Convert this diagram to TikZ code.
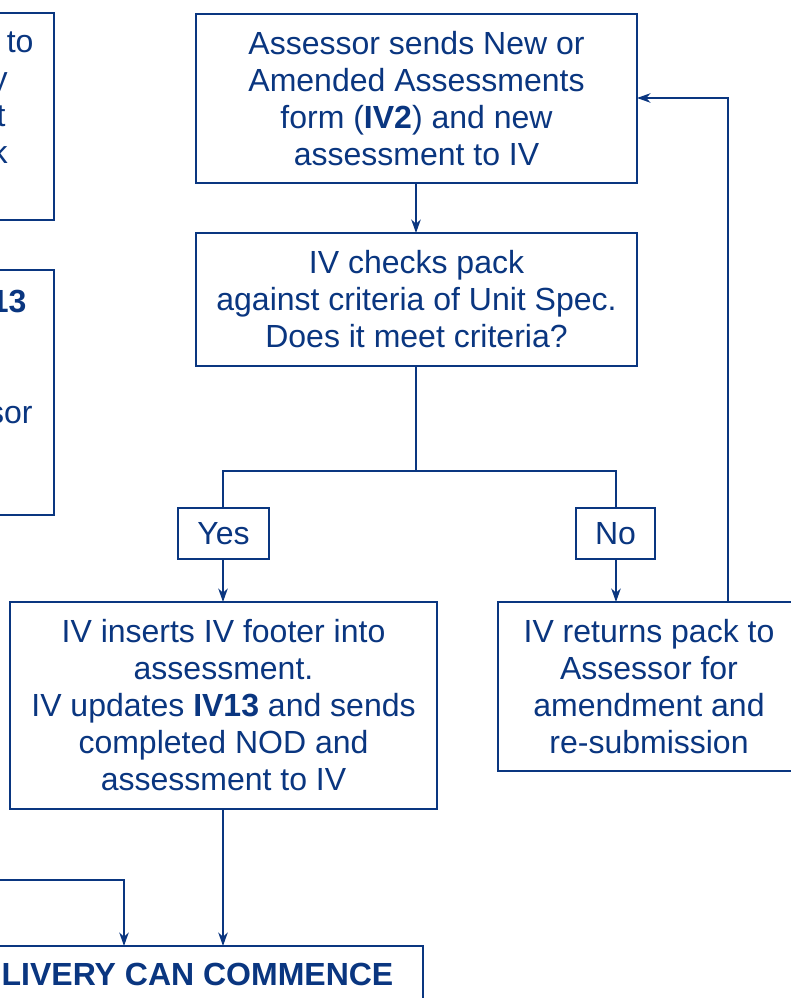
\documentclass[tikz,border=0pt]{standalone}
\usepackage{fontspec}
\setmainfont{Liberation Sans}
\usetikzlibrary{arrows.meta}
\definecolor{navy}{HTML}{0A3680}
\newcommand\fsz{\fontsize{24}{27.75}\selectfont}
\begin{document}
\begin{tikzpicture}[x=0.75pt,y=-0.75pt,
  box/.style={draw=navy, line width=1.5pt, text=navy, align=center, inner sep=0pt, outer sep=0pt, font=\fsz},
  sz/.style 2 args={minimum width=#1*0.75pt, minimum height=#2*0.75pt},
  frag/.style={text=navy, font=\fsz, inner sep=0pt, outer sep=0pt},
  conn/.style={draw=navy, line width=1.5pt},
  arr/.style={conn, -{Stealth[length=10pt,width=7pt,inset=3pt]}}]
\useasboundingbox (0,0) rectangle (791,998);
\clip (0,0) rectangle (791,998);
\fill[white] (0,0) rectangle (791,998);
% main column
\node[box, sz={441}{169}] (A) at (416.5,98.5) {Assessor sends New or\\Amended Assessments\\form (\textbf{IV2}) and new\\assessment to IV};
\node[box, sz={441}{133}] (B) at (416.5,299.5) {IV checks pack\\against criteria of Unit Spec.\\Does it meet criteria?};
\node[box, sz={91}{51}] (Y) at (223.5,533.5) {Yes};
\node[box, sz={79}{51}] (N) at (615.5,533.5) {No};
\node[box, sz={427}{207}] (C) at (223.5,705.5) {IV inserts IV footer into\\assessment.\\IV updates \textbf{IV13} and sends\\completed NOD and\\assessment to IV};
\node[box, sz={302}{169}] (D) at (649,686.5) {IV returns pack to\\Assessor for\\amendment and\\re-submission};
\node[box, sz={451}{57}, font=\fsz\bfseries] (E) at (197.5,974.5) {LIVERY CAN COMMENCE};
% partial boxes on the left
\node[box, sz={400}{207}] (L1) at (-146,116.5) {};
\node[box, sz={400}{245}] (L2) at (-146,392.5) {};
\node[frag, anchor=base east] (f1) at (33.5,53) {to};
\node[frag, anchor=base east] (f2) at (7.5,90) {y};
\node[frag, anchor=base east] (f3) at (5.5,127) {t};
\node[frag, anchor=base east] (f4) at (7.5,164) {k};
\node[frag, anchor=base east, font=\fsz\bfseries] (f5) at (26.5,312) {13};
\node[frag, anchor=base east] (f6) at (32.5,423) {sor};
% connectors
\coordinate (cm) at (416,0);
\coordinate (cy) at (223,0);
\coordinate (cn) at (616,0);
\coordinate (split) at (416,471);
\coordinate (fb) at (728,98);
\coordinate (lin) at (-20,880);
\coordinate (ej) at (124,0);
\draw[arr] (A.south -| cm) -- (B.north -| cm);
\draw[conn] (B.south -| cm) -- (split);
\draw[conn] (Y.north -| cy) |- (split) -| (N.north -| cn);
\draw[arr] (Y.south -| cy) -- (C.north -| cy);
\draw[arr] (N.south -| cn) -- (D.north -| cn);
\draw[arr] (D.north -| fb) -- (fb) -- (A.east |- fb);
\draw[arr] (C.south -| cy) -- (E.north -| cy);
\draw[arr] (lin) -| (ej |- E.north);
\end{tikzpicture}
\end{document}
